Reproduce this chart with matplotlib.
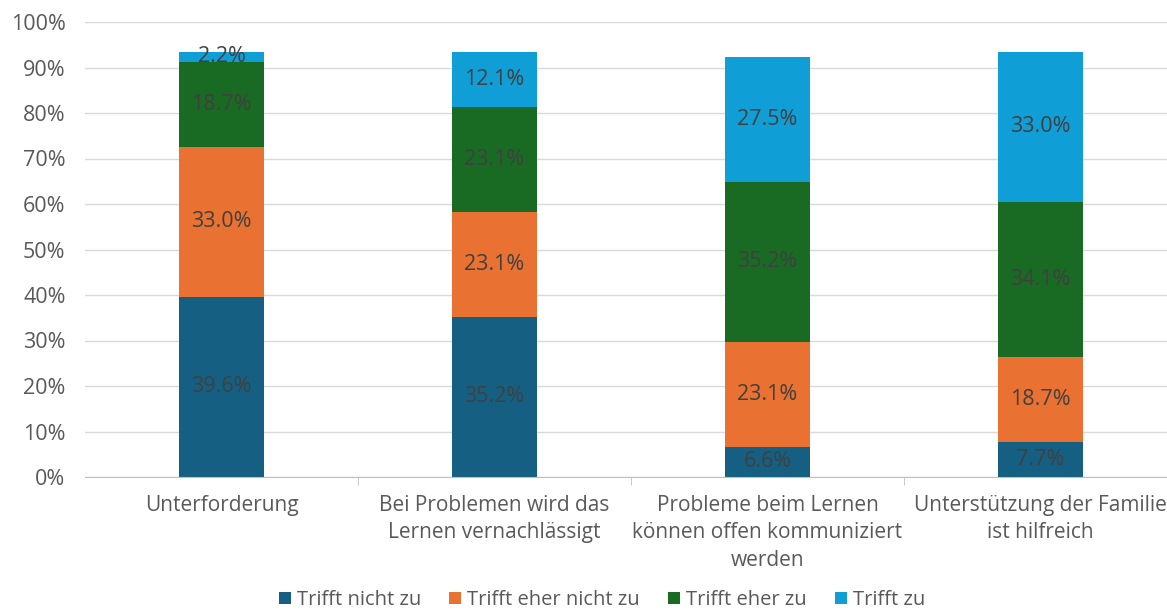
import numpy as np
import matplotlib
matplotlib.use("Agg")
import matplotlib.pyplot as plt
from matplotlib.ticker import PercentFormatter

categories = [
    "Unterforderung",
    "Bei Problemen wird das\nLernen vernachlässigt",
    "Probleme beim Lernen\nkönnen offen kommuniziert\nwerden",
    "Unterstützung der Familie\nist hilfreich",
]
series_names = ["Trifft nicht zu", "Trifft eher nicht zu", "Trifft eher zu", "Trifft zu"]
trifft_nicht_zu = [39.6, 35.2, 6.6, 7.7]
trifft_eher_nicht_zu = [33.0, 23.1, 23.1, 18.7]
trifft_eher_zu = [18.7, 23.1, 35.2, 34.1]
trifft_zu = [2.2, 12.1, 27.5, 33.0]
colors = ["#156082", "#E97132", "#196B24", "#0F9ED5"]

plt.rcParams["font.family"] = ["Open Sans", "DejaVu Sans"]

fig = plt.figure(figsize=(11.67, 6.12), dpi=100)
ax = fig.add_axes([85 / 1167, 135 / 612, 1092 / 1167, 455 / 612])

x = np.arange(len(categories))
bottom = np.zeros(len(categories))
for name, vals, col in zip(series_names,
                           [trifft_nicht_zu, trifft_eher_nicht_zu, trifft_eher_zu, trifft_zu],
                           colors):
    vals = np.array(vals)
    bars = ax.bar(x, vals, width=0.315, bottom=bottom, color=col, label=name, zorder=2)
    for b, v, bt in zip(bars, vals, bottom):
        ax.text(b.get_x() + b.get_width() / 2, bt + v / 2, f"{v:.1f}%",
                ha="center", va="center", fontsize=15.5, color="#404040", zorder=3)
    bottom += vals

ax.set_xlim(-0.5, len(categories) - 0.5)
ax.set_ylim(0, 100)
ax.set_yticks(np.arange(0, 101, 10))
ax.yaxis.set_major_formatter(PercentFormatter(decimals=0))
ax.grid(axis="y", color="#D9D9D9", linewidth=1, zorder=0)
ax.set_axisbelow(True)
for s in ["top", "right", "left"]:
    ax.spines[s].set_visible(False)
ax.spines["bottom"].set_color("#BFBFBF")
ax.tick_params(axis="y", length=0, labelsize=15.5, labelcolor="#595959", pad=14)

ax.set_xticks(x)
ax.set_xticklabels(categories, fontsize=15, color="#595959", linespacing=1.4)
ax.tick_params(axis="x", length=0, pad=13)
ax.set_xticks(np.arange(0.5, len(categories) - 0.5, 1), minor=True)
ax.tick_params(axis="x", which="minor", length=6, color="#BFBFBF")

ax.legend(loc="lower center", bbox_to_anchor=(517 / 1092, -0.31), ncol=4, frameon=False,
          fontsize=14.5, labelcolor="#595959", handlelength=0.6, handleheight=0.6,
          handletextpad=0.3, columnspacing=1.4, borderaxespad=0)

fig.savefig("out.png", dpi=100)
